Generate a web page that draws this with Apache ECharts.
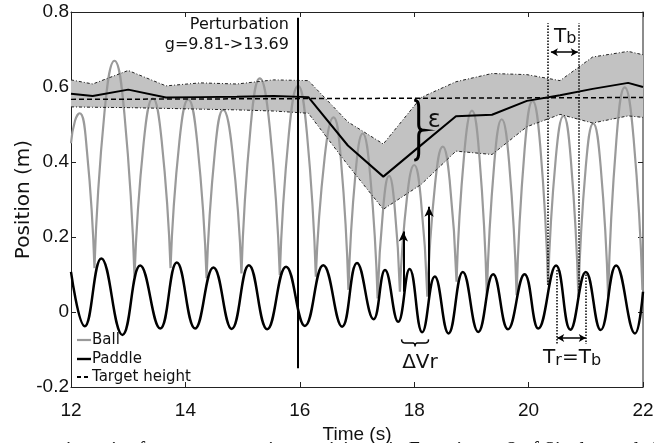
<!DOCTYPE html>
<html>
<head>
<meta charset="utf-8">
<script src="https://cdn.jsdelivr.net/npm/echarts@6/dist/echarts.min.js"></script>
<style>
html,body{margin:0;padding:0;background:#fff;}
#c{width:654px;height:443px;}
</style>
</head>
<body>
<div id="c"></div>
<script>
// ---- data ----
const xTicks = [12, 14, 16, 18, 20, 22];
const yTicks = [-0.2, 0, 0.2, 0.4, 0.6, 0.8];

// ball flight arcs: [time, position] points (bounce, rise, apex, fall, bounce)
const ballArcs = [
  [[12.0,0.45],[12.07,0.51],[12.15,0.53],[12.28,0.427],[12.41,0.117]],
  [[12.41,0.117],[12.585,0.532],[12.76,0.67],[12.935,0.526],[13.11,0.094]],
  [[13.11,0.094],[13.27,0.451],[13.43,0.57],[13.585,0.457],[13.74,0.117]],
  [[13.74,0.117],[13.895,0.455],[14.05,0.567],[14.21,0.448],[14.37,0.09]],
  [[14.37,0.09],[14.515,0.427],[14.66,0.539],[14.82,0.43],[14.98,0.103]],
  [[14.98,0.103],[15.14,0.493],[15.30,0.623],[15.475,0.492],[15.65,0.099]],
  [[15.65,0.099],[15.81,0.477],[15.97,0.603],[16.125,0.476],[16.28,0.094]],
  [[16.28,0.094],[16.435,0.413],[16.59,0.519],[16.72,0.404],[16.85,0.059]],
  [[16.85,0.059],[16.975,0.372],[17.1,0.476],[17.23,0.366],[17.36,0.036]],
  [[17.36,0.036],[17.46,0.281],[17.56,0.363],[17.655,0.286],[17.75,0.054]],
  [[17.75,0.054],[17.875,0.307],[18.0,0.392],[18.115,0.304],[18.23,0.041]],
  [[18.23,0.041],[18.365,0.341],[18.5,0.441],[18.62,0.351],[18.74,0.081]],
  [[18.74,0.081],[18.875,0.423],[19.01,0.537],[19.14,0.414],[19.27,0.045]],
  [[19.27,0.045],[19.40,0.397],[19.53,0.514],[19.66,0.397],[19.79,0.045]],
  [[19.79,0.045],[19.93,0.433],[20.07,0.563],[20.205,0.44],[20.34,0.072]],
  [[20.34,0.072],[20.475,0.41],[20.61,0.523],[20.74,0.403],[20.87,0.041]],
  [[20.87,0.041],[21.0,0.388],[21.13,0.503],[21.26,0.388],[21.39,0.041]],
  [[21.39,0.041],[21.535,0.459],[21.68,0.599],[21.835,0.464],[21.99,0.059]]
];

// paddle trajectory: turning points [time, position]
const paddle = [
  [12.0,0.107],[12.24,-0.038],[12.53,0.143],[12.9,-0.061],[13.21,0.124],[13.56,-0.044],
  [13.85,0.132],[14.17,-0.044],[14.49,0.119],[14.81,-0.045],[15.11,0.125],[15.43,-0.046],
  [15.76,0.121],[16.09,-0.037],[16.41,0.125],[16.74,-0.039],[17.0,0.131],[17.29,-0.019],
  [17.49,0.112],[17.72,-0.026],[17.92,0.115],[18.14,-0.054],[18.36,0.095],[18.6,-0.057],
  [18.85,0.107],[19.12,-0.053],[19.38,0.101],[19.64,-0.046],[19.93,0.101],[20.17,-0.044],
  [20.48,0.124],[20.73,-0.047],[21.0,0.107],[21.26,-0.048],[21.53,0.124],[21.86,-0.057],
  [22.0,0.054]
];

// apex envelope (mean +/- spread)
const bandTimes = [12, 12.38, 13.0, 13.66, 14.26, 14.9, 15.54, 16.15, 16.84, 17.46, 18.12, 18.73, 19.36, 19.97, 20.55, 21.12, 21.74, 22];
const bandUpper = [0.619, 0.608, 0.644, 0.603, 0.611, 0.608, 0.619, 0.617, 0.507, 0.448, 0.572, 0.614, 0.636, 0.633, 0.617, 0.680, 0.695, 0.686];
const bandMean  = [0.582, 0.576, 0.593, 0.572, 0.573, 0.574, 0.576, 0.573, 0.444, 0.361, 0.445, 0.522, 0.526, 0.563, 0.578, 0.595, 0.611, 0.600];
const bandLower = [0.547, 0.546, 0.545, 0.543, 0.541, 0.539, 0.536, 0.530, 0.392, 0.274, 0.340, 0.429, 0.420, 0.494, 0.527, 0.504, 0.523, 0.519];

const targetHeight = [[12, 0.567], [22, 0.572]];
const perturbTime = 15.96;
const perturbSpan = [-0.15, 0.785];

// annotation anchors (data coords)
const arrowUp1 = [[17.81, 0.054], [17.81, 0.215]];
const arrowUp2 = [[18.26, 0.041], [18.26, 0.281]];
const tbLines = [[20.34, 0.072, 0.77], [20.87, 0.041, 0.77]];
const tbArrow = [[20.39, 0.693], [20.86, 0.693]];
const trLines = [[20.49, 0.112, -0.085], [21.0, 0.100, -0.085]];
const trArrow = [[20.50, -0.069], [21.0, -0.069]];

// ---- build ----
const ballData = [];
ballArcs.forEach((arc, i) => {
  if (i > 0) ballData.push([arc[0][0], '-']);
  arc.forEach(p => ballData.push(p));
});
const lowerData = bandTimes.map((t, i) => [t, bandLower[i]]);
const upperData = bandTimes.map((t, i) => [t, bandUpper[i]]);
const meanData = bandTimes.map((t, i) => [t, bandMean[i]]);

const tickFont = "'Liberation Sans Narrow', 'Liberation Sans', Arial, sans-serif";
const annFont = "'DejaVu Sans', Verdana, sans-serif";

const chart = echarts.init(document.getElementById('c'), null, {renderer: 'canvas'});

function vLine(t, a, b, style, s0, s1) {
  return [{coord: [t, a], symbol: s0 || 'none', symbolSize: [7, 10]},
          {coord: [t, b], symbol: s1 || 'none', symbolSize: [7, 10], lineStyle: style}];
}

const axisLineStyle = {show: true, onZero: false, lineStyle: {color: '#222', width: 1}};
const tickStyle = {show: true, inside: true, length: 5, lineStyle: {color: '#222'}};

const option = {
  animation: false,
  grid: {left: 71, right: 11, top: 12, bottom: 56, show: false, containLabel: false, outerBoundsMode: 'none'},
  xAxis: [{
    type: 'value', min: 12, max: 22, interval: 2,
    name: 'Time (s)', nameLocation: 'middle', nameGap: 37,
    nameTextStyle: {fontFamily: tickFont, fontSize: 19, color: '#111'},
    axisLine: axisLineStyle, axisTick: tickStyle,
    axisLabel: {fontFamily: tickFont, fontSize: 19, color: '#111', margin: 14,
      formatter: v => xTicks.indexOf(v) >= 0 ? String(v) : ''},
    splitLine: {show: false}
  }, {
    type: 'value', min: 12, max: 22, interval: 2, position: 'top',
    axisLine: axisLineStyle, axisTick: tickStyle,
    axisLabel: {show: false}, splitLine: {show: false}
  }],
  yAxis: [{
    type: 'value', min: -0.2, max: 0.8, interval: 0.2,
    name: 'Position (m)', nameLocation: 'middle', nameGap: 37, nameRotate: 90, nameMoveOverlap: false,
    nameTextStyle: {fontFamily: annFont, fontSize: 20, color: '#111'},
    axisLine: axisLineStyle, axisTick: tickStyle,
    axisLabel: {fontFamily: tickFont, fontSize: 19, color: '#111', margin: 2,
      formatter: v => { const r = Math.round(v * 10) / 10; return r === 0 ? '0' : String(r); }},
    splitLine: {show: false}
  }, {
    type: 'value', min: -0.2, max: 0.8, interval: 0.2, position: 'right',
    axisLine: {show: true, onZero: false, lineStyle: {color: '#666', width: 1.5}},
    axisTick: tickStyle,
    axisLabel: {show: false}, splitLine: {show: false}
  }],
  series: [
    {name: 'band', type: 'custom', silent: true, z: 1, clip: true,
     data: [[bandTimes[0], bandLower[0]]],
     renderItem: (params, api) => {
       const pts = [];
       for (let i = 0; i < bandTimes.length; i++) pts.push(api.coord([bandTimes[i], bandUpper[i]]));
       for (let i = bandTimes.length - 1; i >= 0; i--) pts.push(api.coord([bandTimes[i], bandLower[i]]));
       return {type: 'polygon', shape: {points: pts}, style: {fill: '#c2c2c2', stroke: null}};
     }},
    {name: 'Ball', type: 'line', data: ballData, symbol: 'none', smooth: 0.5, connectNulls: false,
     lineStyle: {color: '#9a9a9a', width: 2.2}, z: 2},
    {name: 'upper', type: 'line', data: upperData, symbol: 'none',
     lineStyle: {color: '#222', width: 1, type: [3, 2, 1, 2]}, z: 3},
    {name: 'lower', type: 'line', data: lowerData, symbol: 'none',
     lineStyle: {color: '#222', width: 1, type: [3, 2, 1, 2]}, z: 3},
    {name: 'mean', type: 'line', data: meanData, symbol: 'none',
     lineStyle: {color: '#000', width: 2}, z: 4},
    {name: 'Target height', type: 'line', data: targetHeight, symbol: 'none',
     lineStyle: {color: '#000', width: 1.5, type: [5, 3]}, z: 4},
    {name: 'Paddle', type: 'line', data: paddle, symbol: 'none', smooth: 0.45,
     lineStyle: {color: '#000', width: 2.5}, z: 5,
     markLine: {
       silent: true, animation: false, label: {show: false},
       lineStyle: {color: '#000', width: 2, type: 'solid'},
       data: [
         vLine(perturbTime, perturbSpan[0], perturbSpan[1], {color: '#000', width: 2, type: 'solid'}),
         vLine(arrowUp1[0][0], arrowUp1[0][1], arrowUp1[1][1], {color: '#000', width: 2, type: 'solid'}, 'none', 'arrow'),
         vLine(arrowUp2[0][0], arrowUp2[0][1], arrowUp2[1][1], {color: '#000', width: 2, type: 'solid'}, 'none', 'arrow'),
         vLine(tbLines[0][0], tbLines[0][1], tbLines[0][2], {color: '#000', width: 1.5, type: [1.5, 1.5]}),
         vLine(tbLines[1][0], tbLines[1][1], tbLines[1][2], {color: '#000', width: 1.5, type: [1.5, 1.5]}),
         vLine(trLines[0][0], trLines[0][1], trLines[0][2], {color: '#000', width: 1.5, type: [1.5, 1.5]}),
         vLine(trLines[1][0], trLines[1][1], trLines[1][2], {color: '#000', width: 1.5, type: [1.5, 1.5]}),
         [{coord: tbArrow[0], symbol: 'arrow', symbolSize: [6, 7]},
          {coord: tbArrow[1], symbol: 'arrow', symbolSize: [6, 7], lineStyle: {color: '#000', width: 1.5, type: 'solid'}}],
         [{coord: trArrow[0], symbol: 'arrow', symbolSize: [6, 7]},
          {coord: trArrow[1], symbol: 'arrow', symbolSize: [6, 7], lineStyle: {color: '#000', width: 1.5, type: 'solid'}}]
       ]
     }}
  ]
};
chart.setOption(option);

// ---- annotations placed through the chart's own coordinate system ----
const P = (t, v) => chart.convertToPixel({gridIndex: 0}, [t, v]);
const g = [];
function txt(t, v, text, size, align) {
  const p = P(t, v);
  g.push({type: 'text', x: p[0], y: p[1], z: 50,
    style: {text: text, font: size + "px " + annFont, fill: '#111', align: align || 'center', verticalAlign: 'middle'}});
}
txt(15.81, 0.765, 'Perturbation', 16, 'right');
txt(15.81, 0.712, 'g=9.81->13.69', 16, 'right');
txt(18.35, 0.51, 'ε', 24, 'center');
txt(18.1, -0.135, 'ΔVr', 20, 'center');

function rich(t, v, text) {
  const p = P(t, v);
  g.push({type: 'text', x: p[0], y: p[1], z: 50,
    style: {text: text, align: 'center', verticalAlign: 'middle',
      rich: {
        big: {font: "20px " + annFont, fill: '#111'},
        sub: {font: "16px " + annFont, fill: '#111', padding: [5, 0, 0, 0]}
      }}});
}
rich(20.64, 0.735, '{big|T}{sub|b}');
rich(20.76, -0.123, '{big|T}{sub|r}{big|=T}{sub|b}');

// curly braces drawn as polylines sampled along quadratic curves
function quad(p0, c, p1, n, out) {
  for (let k = 0; k <= n; k++) {
    const s = k / n, a = (1 - s) * (1 - s), b = 2 * (1 - s) * s, d = s * s;
    out.push([a * p0[0] + b * c[0] + d * p1[0], a * p0[1] + b * c[1] + d * p1[1]]);
  }
}
function braceV(t, vTop, vBot, w, lw) {
  const A = P(t, vTop), B = P(t, vBot);
  const x = A[0], y0 = A[1], y1 = B[1], ym = (y0 + y1) / 2, h = y1 - y0;
  const xm = x + w / 2, xt = x + w, pts = [];
  quad([x, y0], [xm, y0], [xm, y0 + h * 0.12], 6, pts);
  quad([xm, ym - h * 0.1], [xm, ym], [xt, ym], 6, pts);
  quad([xt, ym], [xm, ym], [xm, ym + h * 0.1], 6, pts);
  quad([xm, y1 - h * 0.12], [xm, y1], [x, y1], 6, pts);
  g.push({type: 'polyline', z: 50, shape: {points: pts}, style: {stroke: '#000', lineWidth: lw, fill: null}});
}
function braceH(t0, t1, vTop, drop, lw) {
  const A = P(t0, vTop), B = P(t1, vTop);
  const y = A[1], x0 = A[0], x1 = B[0], xm = (x0 + x1) / 2, w = x1 - x0;
  const ym = y + drop / 2, yt = y + drop, pts = [];
  quad([x0, y], [x0, ym], [x0 + w * 0.12, ym], 6, pts);
  quad([xm - w * 0.1, ym], [xm, ym], [xm, yt], 6, pts);
  quad([xm, yt], [xm, ym], [xm + w * 0.1, ym], 6, pts);
  quad([x1 - w * 0.12, ym], [x1, ym], [x1, y], 6, pts);
  g.push({type: 'polyline', z: 50, shape: {points: pts}, style: {stroke: '#000', lineWidth: lw, fill: null}});
}
braceV(18.0, 0.565, 0.405, 9, 3);
braceH(17.78, 18.25, -0.073, 7, 1.5);

// legend (inside lower-left corner)
const legendItems = [
  {label: 'Ball', color: '#9a9a9a', dash: null, w: 2.2, y: 340},
  {label: 'Paddle', color: '#000', dash: null, w: 2.4, y: 359},
  {label: 'Target height', color: '#000', dash: [4, 3], w: 1.8, y: 377}
];
legendItems.forEach(it => {
  g.push({type: 'line', z: 60, shape: {x1: 77, y1: it.y, x2: 91, y2: it.y},
    style: {stroke: it.color, lineWidth: it.w, lineDash: it.dash}});
  g.push({type: 'text', z: 60, x: 92, y: it.y,
    style: {text: it.label, font: "15px " + annFont, fill: '#111', align: 'left', verticalAlign: 'middle'}});
});

// clipped caption at the very bottom of the picture
g.push({type: 'text', z: 60, x: 656, y: 440.5,
  style: {text: 'trajectories for a representative participant in Experiment 2 of Siegler et al. (', font: "20px 'Liberation Serif', 'DejaVu Serif', serif",
    fill: '#111', align: 'right', verticalAlign: 'top'}});

chart.setOption({graphic: g});
</script>
</body>
</html>
